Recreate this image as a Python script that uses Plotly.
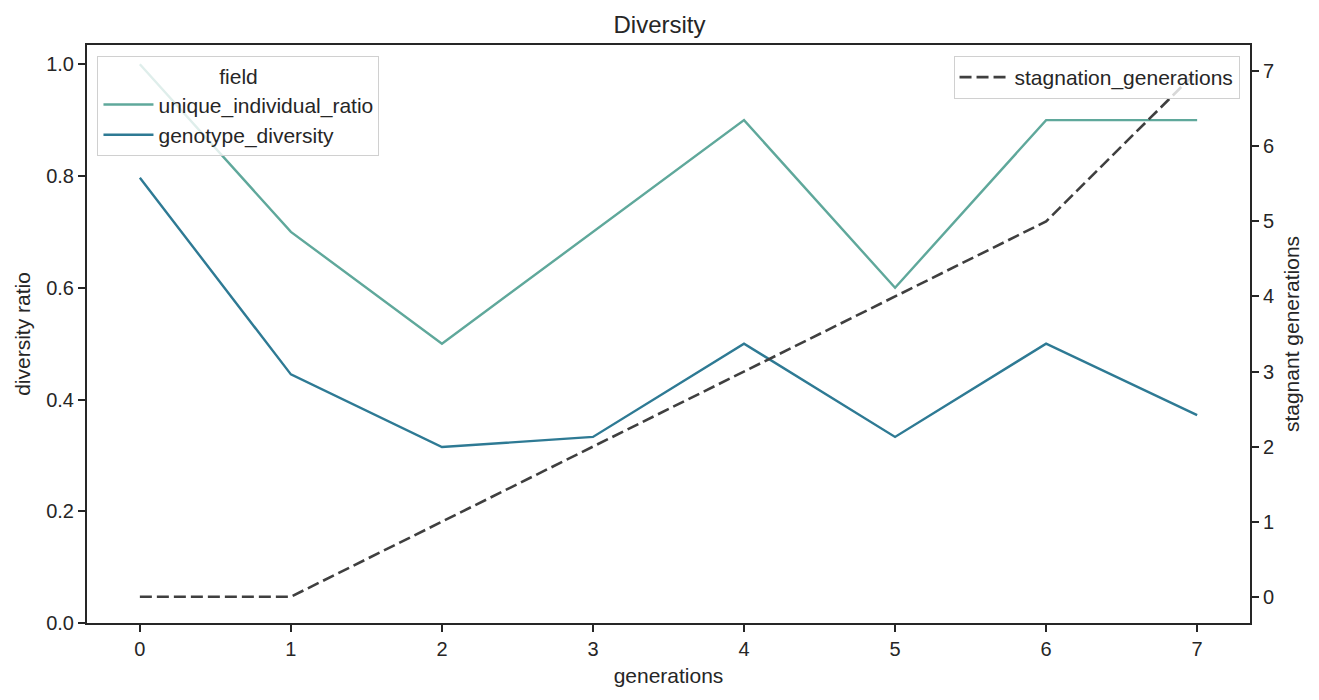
import plotly.graph_objects as go

generations = [0, 1, 2, 3, 4, 5, 6, 7]
unique_individual_ratio = [1.0, 0.7, 0.5, 0.7, 0.9, 0.6, 0.9, 0.9]
genotype_diversity = [0.797, 0.445, 0.315, 0.333, 0.5, 0.333, 0.5, 0.372]
stagnation_generations = [0, 0, 1, 2, 3, 4, 5, 7]

C1 = "#5fa89b"
C2 = "#2e7a94"
C3 = "#3f3f3f"
AX = "#262626"
FONT = "Liberation Sans, Arial, sans-serif"
TICKF = 20
LABF = 21

fig = go.Figure()
fig.add_trace(go.Scatter(x=generations, y=unique_individual_ratio, mode="lines",
                         name="unique_individual_ratio", line=dict(color=C1, width=2.4),
                         legend="legend"))
fig.add_trace(go.Scatter(x=generations, y=genotype_diversity, mode="lines",
                         name="genotype_diversity", line=dict(color=C2, width=2.4),
                         legend="legend"))
fig.add_trace(go.Scatter(x=generations, y=stagnation_generations, mode="lines",
                         name="stagnation_generations", yaxis="y2",
                         line=dict(color=C3, width=2.6, dash="12px,5px"),
                         legend="legend2"))

axcommon = dict(ticks="outside", ticklen=7, tickwidth=2, tickcolor=AX,
                showline=True, linecolor=AX, linewidth=2, showgrid=False, zeroline=False,
                tickfont=dict(size=TICKF, color=AX))

fig.update_layout(
    width=1319, height=700,
    margin=dict(l=87, r=69, t=45, b=77),
    paper_bgcolor="white", plot_bgcolor="white",
    font=dict(family=FONT, size=TICKF, color=AX),
    title=dict(text="Diversity", x=0.5, xanchor="center", y=1 - 25 / 700, yanchor="middle",
               font=dict(size=24, color=AX)),
    xaxis=dict(range=[-0.35, 7.35], tickvals=generations, mirror=True,
               title=dict(text="generations", standoff=9, font=dict(size=LABF)),
               **axcommon),
    yaxis=dict(range=[0, 1.0345], tickvals=[0, 0.2, 0.4, 0.6, 0.8, 1.0],
               ticktext=["0.0", "0.2", "0.4", "0.6", "0.8", "1.0"],
               title=dict(text="diversity ratio", standoff=10, font=dict(size=LABF)),
               **axcommon),
    yaxis2=dict(range=[-0.35, 7.35], tickvals=list(range(8)), overlaying="y", side="right",
                title=dict(text="stagnant generations", standoff=11, font=dict(size=LABF)),
                **axcommon),
    legend=dict(x=0.009, y=0.981, xanchor="left", yanchor="top",
                bgcolor="rgba(255,255,255,0.8)", bordercolor="#d0d0d0", borderwidth=1,
                itemwidth=50,
                font=dict(size=LABF), title=dict(text="field", side="top center", font=dict(size=LABF))),
    legend2=dict(x=0.991, y=0.981, xanchor="right", yanchor="top",
                 bgcolor="rgba(255,255,255,0.8)", bordercolor="#d0d0d0", borderwidth=1,
                 itemwidth=50,
                 font=dict(size=LABF)),
)

fig.write_html("out.html")
